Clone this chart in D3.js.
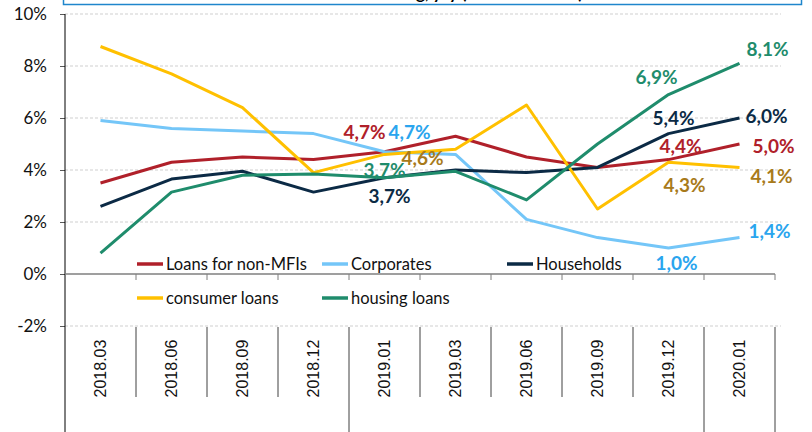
<!DOCTYPE html>
<html>
<head>
<meta charset="utf-8">
<script src="https://cdn.jsdelivr.net/npm/d3@7"></script>
<style>
  body { margin: 0; background: #fff; }
  svg { display: block; }
</style>
</head>
<body>
<svg id="chart" width="812" height="432"></svg>
<script>
const categories = ["2018.03", "2018.06", "2018.09", "2018.12", "2019.01", "2019.03", "2019.06", "2019.09", "2019.12", "2020.01"];
const nonMfiLoans = [3.5, 4.3, 4.5, 4.4, 4.7, 5.3, 4.5, 4.1, 4.4, 5.0];
const corporates = [5.9, 5.6, 5.5, 5.4, 4.7, 4.6, 2.1, 1.4, 1.0, 1.4];
const households = [2.6, 3.65, 3.95, 3.15, 3.7, 4.0, 3.9, 4.1, 5.4, 6.0];
const consumerLoans = [8.75, 7.7, 6.4, 3.9, 4.6, 4.8, 6.5, 2.5, 4.3, 4.1];
const housingLoans = [0.8, 3.15, 3.8, 3.85, 3.7, 3.95, 2.85, 5.0, 6.9, 8.1];
const yTicks = [-2, 0, 2, 4, 6, 8, 10];

const series = [
  { name: "Loans for non-MFIs", values: nonMfiLoans, color: "#B0202A", labelColor: "#B0202A" },
  { name: "Corporates", values: corporates, color: "#74C6F8", labelColor: "#2AA5EE" },
  { name: "Households", values: households, color: "#0B2A45", labelColor: "#0B2A45" },
  { name: "consumer loans", values: consumerLoans, color: "#FFC000", labelColor: "#A87A1A" },
  { name: "housing loans", values: housingLoans, color: "#1F8C6C", labelColor: "#1F8C6C" }
];

// which points carry a data label, and where the label sits relative to the point
const labelOffsets = {
  "Loans for non-MFIs": { "2019.01": [-20, -20], "2019.12": [12, -13], "2020.01": [34, 2] },
  "Corporates": { "2019.01": [25, -20], "2019.12": [8, 15], "2020.01": [30, -6] },
  "Households": { "2019.01": [5, 18], "2019.12": [5, -15], "2020.01": [27, -2] },
  "consumer loans": { "2019.01": [38, 4], "2019.12": [16, 23], "2020.01": [32, 9] },
  "housing loans": { "2019.01": [0, -8], "2019.12": [-12, -17], "2020.01": [28, -14] }
};

const svg = d3.select("#chart");
const plotLeft = 65, plotRight = 775, plotTop = 14, plotBottom = 326;

const x = d3.scalePoint().domain(categories).range([plotLeft, plotRight]).padding(0.5);
const step = x.step();
const y = d3.scaleLinear().domain([-2, 10]).range([plotBottom, plotTop]);

// title box, mostly outside the picture
svg.append("rect")
  .attr("x", 63.5).attr("y", -30).attr("width", 738).attr("height", 34.5)
  .attr("fill", "#fff").attr("stroke", "#1F86CC").attr("stroke-width", 1.5);
svg.append("text")
  .attr("x", 455).attr("y", -1)
  .attr("text-anchor", "middle")
  .style("font-family", "Lato, sans-serif").style("font-weight", "bold").style("font-size", "17px")
  .text("Bank lending, y/y (on annual base)");

// gridlines
svg.append("g").selectAll("line")
  .data(yTicks.filter(d => d !== 0))
  .enter().append("line")
  .attr("x1", plotLeft).attr("x2", plotRight + 6)
  .attr("y1", d => y(d)).attr("y2", d => y(d))
  .attr("stroke", "#CFCFCF").attr("stroke-dasharray", "3,2");

// y axis
const yAxis = svg.append("g")
  .attr("transform", `translate(${plotLeft},0)`)
  .call(d3.axisLeft(y).tickValues(yTicks).tickSize(5).tickPadding(13).tickFormat(d => d + "%"));
yAxis.select(".domain").remove();
yAxis.selectAll(".tick line").attr("stroke", "#595959");
yAxis.selectAll("text")
  .style("font-family", "Lato, sans-serif").style("font-size", "17px").attr("fill", "#111");
svg.append("line")
  .attr("x1", plotLeft).attr("x2", plotLeft).attr("y1", plotTop).attr("y2", 432)
  .attr("stroke", "#000");

// zero line with ticks at band boundaries
svg.append("line")
  .attr("x1", plotLeft).attr("x2", plotRight)
  .attr("y1", y(0)).attr("y2", y(0))
  .attr("stroke", "#7F7F7F").attr("stroke-width", 1.5);
const boundaries = categories.slice(1).map(c => x(c) - step / 2).concat([plotRight]);
svg.append("g").selectAll("line")
  .data(boundaries)
  .enter().append("line")
  .attr("x1", d => d).attr("x2", d => d)
  .attr("y1", y(0)).attr("y2", y(0) + 6)
  .attr("stroke", "#7F7F7F");

// category table below the plot
svg.append("g").selectAll("line")
  .data(boundaries)
  .enter().append("line")
  .attr("x1", d => d).attr("x2", d => d)
  .attr("y1", plotBottom + 1)
  .attr("y2", (d, i) => (i === 3 || i === 8 || i === 9) ? 432 : 397)
  .attr("stroke", "#404040");

svg.append("g").selectAll("text")
  .data(categories)
  .enter().append("text")
  .attr("transform", d => `translate(${x(d)},368.5) rotate(-90)`)
  .attr("text-anchor", "middle")
  .attr("dy", "0.35em")
  .style("font-family", "'Liberation Sans', Arial, sans-serif").style("font-size", "16px")
  .attr("fill", "#111")
  .text(d => d);

// lines
const line = d3.line()
  .x((d, i) => x(categories[i]))
  .y(d => y(d));

svg.append("g").selectAll("path")
  .data(series)
  .enter().append("path")
  .attr("d", d => line(d.values))
  .attr("fill", "none")
  .attr("stroke", d => d.color)
  .attr("stroke-width", 3)
  .attr("stroke-linejoin", "round");

// data labels
const labels = [];
series.forEach(s => {
  Object.entries(labelOffsets[s.name]).forEach(([cat, off]) => {
    const v = s.values[categories.indexOf(cat)];
    labels.push({ cat, v, off, color: s.labelColor });
  });
});
svg.append("g").selectAll("text")
  .data(labels)
  .enter().append("text")
  .attr("x", d => x(d.cat) + d.off[0])
  .attr("y", d => y(d.v) + d.off[1])
  .attr("text-anchor", "middle")
  .attr("dy", "0.36em")
  .style("font-family", "Lato, sans-serif").style("font-weight", "bold").style("font-size", "19px")
  .attr("fill", d => d.color)
  .text(d => d3.format(".1f")(d.v).replace(".", ",") + "%");

// legend
const legendItems = [
  { s: series[0], lx: 137, ly: 264 },
  { s: series[1], lx: 322, ly: 264 },
  { s: series[2], lx: 507, ly: 264 },
  { s: series[3], lx: 137, ly: 298 },
  { s: series[4], lx: 322, ly: 298 }
];
const legend = svg.append("g").selectAll("g")
  .data(legendItems)
  .enter().append("g")
  .attr("transform", d => `translate(${d.lx},${d.ly})`);
legend.append("line")
  .attr("x1", 0).attr("x2", 26)
  .attr("stroke", d => d.s.color).attr("stroke-width", 3.5);
legend.append("text")
  .attr("x", 29).attr("dy", "0.35em")
  .style("font-family", "Lato, sans-serif").style("font-size", "16.5px")
  .attr("fill", "#111")
  .text(d => d.s.name);
</script>
</body>
</html>
